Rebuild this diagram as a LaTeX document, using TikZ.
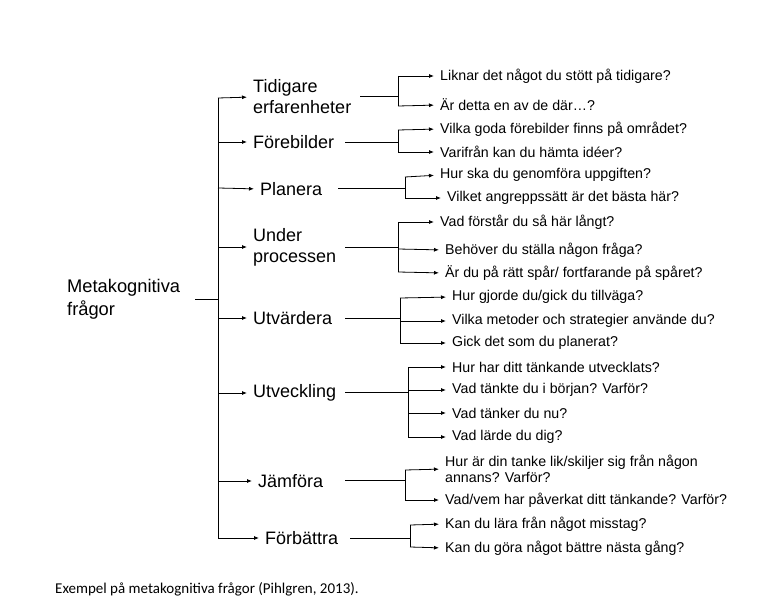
\documentclass[tikz,border=0pt]{standalone}
\usepackage{fontspec}
\setmainfont{Liberation Sans}
\newfontfamily\capfont{Carlito}
\usetikzlibrary{arrows.meta}
\begin{document}
\begin{tikzpicture}[x=1pt,y=-1pt,
  ln/.style={line width=0.8pt},
  ar/.style={line width=0.8pt,shorten >=6pt,-{Latex[length=5pt,width=4pt]}},
  br/.style={anchor=west,inner sep=0pt,font=\fontsize{18}{21}\selectfont,align=left},
  lf/.style={anchor=west,inner sep=0pt,font=\fontsize{14.2}{16}\selectfont,align=left}]
\useasboundingbox (0,0) rectangle (775,601);
\node[br,font=\fontsize{18.3}{23}\selectfont] (root) at (67,299) {Metakognitiva\\frågor};
\coordinate (r1) at (195,299); \coordinate (r2) at (218,299);
\draw[ln] (r1) -- (r2);
\coordinate (tt) at (218,98); \coordinate (tb) at (218,538);
\draw[ln] (tt) -- (tb);
% 1
\node[br] (b1) at (253,97) {Tidigare\\erfarenheter};
\draw[ar] (tt) -- (b1.west);
\coordinate (v1) at (398,96); \coordinate (s1) at (360,96);
\draw[ln] (s1) -- (v1);
\coordinate (v1a) at (398,76); \coordinate (v1b) at (398,106);
\draw[ln] (v1a) -- (v1b);
\node[lf] (l11) at (440,76) {Liknar det något du stött på tidigare?};
\node[lf] (l12) at (440,105) {Är detta en av de där…?};
\draw[ar] (v1a) -- (l11.west); \draw[ar] (v1b) -- (l12.west);
% 2
\node[br] (b2) at (253,142) {Förebilder};
\coordinate (t2) at (218,142); \draw[ar] (t2) -- (b2.west);
\coordinate (s2) at (345,142); \coordinate (v2) at (398,142); \draw[ln] (s2)--(v2);
\coordinate (v2a) at (398,130); \coordinate (v2b) at (398,152); \draw[ln] (v2a)--(v2b);
\node[lf] (l21) at (440,129) {Vilka goda förebilder finns på området?};
\node[lf] (l22) at (440,152) {Varifrån kan du hämta idéer?};
\draw[ar] (v2a) -- (l21.west); \draw[ar] (v2b) -- (l22.west);
% 3
\node[br] (b3) at (260,189) {Planera};
\coordinate (t3) at (218,188); \draw[ar] (t3) -- (b3.west);
\coordinate (s3) at (338,188); \coordinate (v3) at (405,188); \draw[ln] (s3)--(v3);
\coordinate (v3a) at (405,177); \coordinate (v3b) at (405,198); \draw[ln] (v3a)--(v3b);
\node[lf] (l31) at (440,175) {Hur ska du genomföra uppgiften?};
\node[lf] (l32) at (447,198) {Vilket angreppssätt är det bästa här?};
\draw[ar] (v3a) -- (l31.west); \draw[ar] (v3b) -- (l32.west);
% 4
\node[br] (b4) at (253,247) {Under\\processen};
\coordinate (t4) at (218,247); \draw[ar] (t4) -- (b4.west);
\coordinate (s4) at (345,247); \coordinate (v4) at (398,247); \draw[ln] (s4)--(v4);
\coordinate (v4a) at (398,222); \coordinate (v4m) at (398,249); \coordinate (v4b) at (398,272); \draw[ln] (v4a)--(v4b);
\node[lf] (l41) at (440,222) {Vad förstår du så här långt?};
\node[lf] (l42) at (445,250) {Behöver du ställa någon fråga?};
\node[lf] (l43) at (445,273) {Är du på rätt spår/ fortfarande på spåret?};
\draw[ar] (v4a) -- (l41.west); \draw[ar] (v4m) -- (l42.west); \draw[ar] (v4b) -- (l43.west);
% 5
\node[br] (b5) at (253,318) {Utvärdera};
\coordinate (t5) at (218,318); \draw[ar] (t5) -- (b5.west);
\coordinate (s5) at (345,318); \coordinate (v5) at (400,318); \draw[ln] (s5)--(v5);
\coordinate (v5a) at (400,298); \coordinate (v5m) at (400,321); \coordinate (v5b) at (400,343); \draw[ln] (v5a)--(v5b);
\node[lf] (l51) at (452,297) {Hur gjorde du/gick du tillväga?};
\node[lf] (l52) at (452,321) {Vilka metoder och strategier använde du?};
\node[lf] (l53) at (452,343) {Gick det som du planerat?};
\draw[ar] (v5a) -- (l51.west); \draw[ar] (v5m) -- (l52.west); \draw[ar] (v5b) -- (l53.west);
% 6
\node[br] (b6) at (253,393) {Utveckling};
\coordinate (t6) at (218,393); \draw[ar] (t6) -- (b6.west);
\coordinate (s6) at (345,392); \coordinate (v6) at (408,392); \draw[ln] (s6)--(v6);
\coordinate (v6a) at (408,367); \coordinate (v6b) at (408,390); \coordinate (v6c) at (408,413); \coordinate (v6d) at (408,437); \draw[ln] (v6a)--(v6d);
\node[lf] (l61) at (452,367) {Hur har ditt tänkande utvecklats?};
\node[lf] (l62) at (452,390) {Vad tänkte du i början? Varför?};
\node[lf] (l63) at (452,413) {Vad tänker du nu?};
\node[lf] (l64) at (452,437) {Vad lärde du dig?};
\draw[ar] (v6a) -- (l61.west); \draw[ar] (v6b) -- (l62.west); \draw[ar] (v6c) -- (l63.west); \draw[ar] (v6d) -- (l64.west);
% 7
\node[br] (b7) at (258,481) {Jämföra};
\coordinate (t7) at (218,481); \draw[ar] (t7) -- (b7.west);
\coordinate (s7) at (345,480); \coordinate (v7) at (405,480); \draw[ln] (s7)--(v7);
\coordinate (v7a) at (405,470); \coordinate (v7b) at (405,500); \draw[ln] (v7a)--(v7b);
\node[lf] (l71) at (445,469) {Hur är din tanke lik/skiljer sig från någon\\annans? Varför?};
\node[lf] (l72) at (445,500) {Vad/vem har påverkat ditt tänkande? Varför?};
\draw[ar] (v7a) -- (l71.west); \draw[ar] (v7b) -- (l72.west);
% 8
\node[br] (b8) at (265,538) {Förbättra};
\draw[ar] (tb) -- (b8.west);
\coordinate (s8) at (350,538); \coordinate (v8) at (410,538); \draw[ln] (s8)--(v8);
\coordinate (v8a) at (410,525); \coordinate (v8b) at (410,547); \draw[ln] (v8a)--(v8b);
\node[lf] (l81) at (445,524) {Kan du lära från något misstag?};
\node[lf] (l82) at (445,548) {Kan du göra något bättre nästa gång?};
\draw[ar] (v8a) -- (l81.west); \draw[ar] (v8b) -- (l82.west);
\node[anchor=west,inner sep=0pt,font=\capfont\fontsize{15}{17}\selectfont] (cap) at (55,589) {Exempel på metakognitiva frågor (Pihlgren, 2013).};
\end{tikzpicture}
\end{document}
